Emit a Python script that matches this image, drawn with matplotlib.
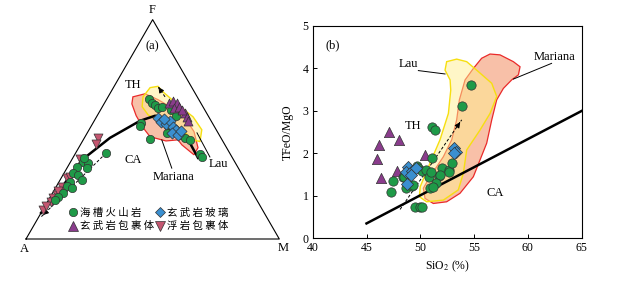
import numpy as np
import matplotlib
matplotlib.use("Agg")
import matplotlib.pyplot as plt
from matplotlib.lines import Line2D

plt.rcParams['font.family'] = ['Liberation Serif', 'Noto Sans CJK SC', 'DejaVu Sans']
plt.rcParams['mathtext.fontset'] = 'stix'

# ---------------- (a) AFM ternary data, F and M in %, A = 100 - F - M
green_F = [63.8, 62.2, 61.2, 59.7, 58.6, 52.8, 51.6, 45.5, 51.3, 49.8, 47.5, 46.0, 45.2, 38.8, 37.6,
           60.3, 56.2, 48.4,
           39.1, 35.3, 34.6, 32.3, 33.0, 30.0, 29.2, 26.9, 26.2, 24.2, 23.2, 20.9, 19.3, 17.8, 37.0]
green_M = [16.7, 18.5, 20.3, 22.4, 27.8, 19.0, 19.2, 26.2, 30.5, 33.3, 37.1, 39.8, 42.1, 49.3, 50.6,
           23.5, 31.1, 31.5,
           12.0, 5.0, 7.3, 7.8, 3.5, 3.7, 6.0, 8.5, 4.3, 4.0, 6.5, 4.3, 3.1, 2.6, 4.4]
blue_F = [55.3, 53.4, 52.5, 53.9, 51.1, 49.8, 48.4, 47.5, 49.3, 54.8]
blue_M = [24.5, 26.6, 29.0, 29.9, 32.5, 34.3, 33.4, 36.3, 36.5, 27.1]
purple_F = [62.2, 62.7, 62.0, 59.8, 60.4, 57.4, 55.8, 53.6, 58.9]
purple_M = [25.5, 26.6, 28.5, 28.5, 30.2, 34.1, 35.5, 37.3, 32.1]
pink_F = [46.0, 43.4, 36.4, 27.7, 23.6, 20.1, 18.6, 17.0, 13.2, 28.4, 22.1, 15.1]
pink_M = [5.5, 5.8, 3.1, 2.5, 2.5, 2.1, 1.5, 1.3, 0.2, 3.2, 1.7, 0.4]

# TH / CA boundary curve
curve_F = [11.9, 22.4, 36.1, 46.1, 53.9, 56.2, 54.3, 49.8, 43.8, 37.0]
curve_M = [0.0, 2.2, 4.1, 10.1, 18.1, 22.9, 28.9, 35.9, 42.8, 49.4]

# fields
mar_F = [64.8, 66.2, 63.5, 59.8, 55.3, 48.9, 41.6, 38.4, 42.9, 45.2, 44.7, 46.6, 50.7, 56.2, 61.6]
mar_M = [9.8, 13.9, 20.4, 27.7, 35.1, 41.9, 47.1, 47.1, 40.1, 37.4, 32.9, 25.7, 20.9, 15.4, 11.0]
lau_F = [69.0, 69.6, 66.7, 60.4, 55.7, 49.8, 44.4, 45.2, 49.8, 53.0, 56.6, 60.3, 64.8]
lau_M = [14.5, 17.3, 21.1, 30.6, 38.1, 44.5, 46.5, 43.3, 36.7, 27.6, 19.9, 15.7, 13.8]

# ---------------- (b) SiO2 vs TFeO/MgO
green_si = [54.71, 53.88, 51.09, 51.37, 51.06, 49.67, 49.82, 48.36, 47.43, 47.25, 48.67, 49.2,
            50.13, 50.53, 50.84, 51.71, 51.99, 52.67, 52.92, 52.70, 51.83, 51.46, 50.9, 51.2,
            49.35, 49.5, 49.97, 50.13, 48.5, 50.97]
green_r = [3.60, 3.12, 2.61, 2.55, 1.88, 1.70, 1.65, 1.45, 1.35, 1.08, 1.18, 1.24,
           1.59, 1.61, 1.45, 1.47, 1.65, 1.61, 1.77, 1.55, 1.49, 1.30, 1.18, 1.20,
           1.26, 0.74, 0.74, 0.73, 1.45, 1.57]
blue_si = [48.83, 48.67, 49.2, 49.6, 49.14, 48.73, 53.13, 53.32, 53.13]
blue_r = [1.69, 1.55, 1.59, 1.65, 1.49, 1.27, 2.12, 2.04, 2.0]
purple_si = [47.13, 48.02, 46.2, 46.0, 46.35, 47.81, 50.44]
purple_r = [2.50, 2.32, 2.20, 1.87, 1.43, 1.59, 1.96]

line_si = [45, 65]
line_r = [0.35, 3.0]

lau_si = [52.45, 53.38, 54.31, 55.24, 56.64, 57.1, 56.48, 55.55, 54.31, 54.0, 53.53, 52.14,
          50.59, 49.91, 50.0, 50.9, 51.83, 52.61, 52.83, 52.77, 52.3]
lau_r = [4.16, 4.22, 4.16, 3.96, 3.65, 3.34, 2.94, 2.55, 2.08, 1.53, 1.14, 0.90,
         0.86, 0.98, 1.22, 1.77, 2.32, 2.94, 3.49, 3.73, 3.96]
mar_si = [56.48, 57.41, 58.65, 59.27, 59.12, 58.49, 57.72, 57.1, 56.64, 56.17, 54.93, 53.69,
          52.45, 51.21, 50.44, 50.28, 50.9, 52.14, 52.92, 53.38, 53.63, 54.16, 54.93, 55.7]
mar_r = [4.34, 4.32, 4.16, 4.04, 3.85, 3.73, 3.53, 3.26, 2.79, 2.24, 1.45, 1.06,
         0.86, 0.82, 0.94, 1.18, 1.45, 1.92, 2.32, 2.79, 3.26, 3.73, 4.0, 4.24]

labels = ["海 槽 火 山 岩", "玄 武 岩 玻 璃", "玄 武 岩 包 裹 体", "浮 岩 包 裹 体"]

GREEN = "#1f9a48"
BLUE = "#3a8fd0"
PURPLE = "#8a3c8c"
PINK = "#c45670"
EDGE = "#333333"
MAR_FACE = "#f8c0a8"
MAR_EDGE = "#ea2a2a"
LAU_FACE = "#ffef90"
LAU_EDGE = "#f6df10"


def tern(F, M):
    F = np.asarray(F, dtype=float) / 100
    M = np.asarray(M, dtype=float) / 100
    return M + F / 2, F * np.sqrt(3) / 2


fig = plt.figure(figsize=(6.44, 2.81), dpi=100)

# ---------- (a)
S = 253.3
ax1 = fig.add_axes([0, 0, 300 / 644, 1])
ax1.set_xlim(-26 / S, 274 / S)
ax1.set_ylim(-42 / S, 239 / S)
ax1.axis("off")

tri_x = [0, 1, 0.5, 0]
tri_y = [0, 0, np.sqrt(3) / 2, 0]
ax1.plot(tri_x, tri_y, color="black", lw=0.8, zorder=2)

x, y = tern(mar_F, mar_M)
ax1.fill(x, y, facecolor=MAR_FACE, edgecolor=MAR_EDGE, lw=0.9, zorder=1)
x, y = tern(lau_F, lau_M)
ax1.fill(x, y, facecolor=LAU_FACE, alpha=0.5, edgecolor="none", zorder=1.1)
ax1.fill(x, y, facecolor="none", edgecolor=LAU_EDGE, lw=1.0, zorder=1.2)

x, y = tern(curve_F, curve_M)
ax1.plot(x, y, color="black", lw=1.8, zorder=3)

# leader lines
x, y = tern([45.2, 32.3], [31.0, 41.4])
ax1.plot(x, y, color="black", lw=0.7, zorder=2)
x, y = tern([48.4, 37.4], [43.3, 53.9])
ax1.plot(x, y, color="black", lw=0.7, zorder=2)

# trend arrows
for f0, m0, f1, m1 in [(39.1, 12.0, 10.0, 0.9), (64.8, 22.5, 69.2, 17.7), (61.6, 18.9, 65.3, 15.1)]:
    (xs, xe), (ys, ye) = tern([f0, f1], [m0, m1])
    ax1.plot([xs, xe], [ys, ye], color="black", lw=0.7, ls=(0, (3, 2)), zorder=3)
    ax1.annotate("", xy=(xe, ye), xytext=(xs + (xe - xs) * 0.9, ys + (ye - ys) * 0.9),
                 arrowprops=dict(arrowstyle="-|>", color="black", lw=0.7, mutation_scale=8),
                 zorder=3)

x, y = tern(pink_F, pink_M)
ax1.scatter(x, y, s=42, marker="v", color=PINK, edgecolors=EDGE, linewidths=0.5, zorder=4)
x, y = tern(green_F, green_M)
ax1.scatter(x, y, s=36, marker="o", color=GREEN, edgecolors=EDGE, linewidths=0.5, zorder=5)
x, y = tern(purple_F, purple_M)
ax1.scatter(x, y, s=42, marker="^", color=PURPLE, edgecolors=EDGE, linewidths=0.5, zorder=5)
x, y = tern(blue_F, blue_M)
ax1.scatter(x, y, s=32, marker="D", color=BLUE, edgecolors=EDGE, linewidths=0.5, zorder=6)

ax1.text(0.4977, 0.904, "F", ha="center", va="center", fontsize=9)
ax1.text(-0.008, -0.040, "A", ha="center", va="center", fontsize=9)
ax1.text(1.0146, -0.036, "M", ha="center", va="center", fontsize=9)
ax1.text(0.4977, 0.762, "(a)", ha="center", va="center", fontsize=9)
ax1.text(0.4224, 0.608, "TH", ha="center", va="center", fontsize=9)
ax1.text(0.4224, 0.312, "CA", ha="center", va="center", fontsize=9)
ax1.text(0.5843, 0.245, "Mariana", ha="center", va="center", fontsize=9)
ax1.text(0.758, 0.296, "Lau", ha="center", va="center", fontsize=9)

handles = [
    Line2D([], [], ls="none", marker="o", ms=6, mfc=GREEN, mec=EDGE, mew=0.5),
    Line2D([], [], ls="none", marker="D", ms=5, mfc=BLUE, mec=EDGE, mew=0.5),
    Line2D([], [], ls="none", marker="^", ms=6.5, mfc=PURPLE, mec=EDGE, mew=0.5),
    Line2D([], [], ls="none", marker="v", ms=6.5, mfc=PINK, mec=EDGE, mew=0.5),
]
order = [0, 2, 1, 3]
fig.legend([handles[i] for i in order], [labels[i] for i in order], ncol=2,
           loc="upper left", bbox_to_anchor=(68 / 644, 1 - 208 / 281),
           frameon=False, handletextpad=0.15, columnspacing=0.1, labelspacing=0.3,
           handlelength=1.0, borderpad=0, borderaxespad=0,
           prop={"family": ["Noto Sans CJK SC"], "size": 7.5})

# ---------- (b)
ax2 = fig.add_axes([312.7 / 644, 1 - 238.3 / 281, 269 / 644, 212.3 / 281])
ax2.fill(mar_si, mar_r, facecolor=MAR_FACE, edgecolor=MAR_EDGE, lw=0.9, zorder=1)
ax2.fill(lau_si, lau_r, facecolor=LAU_FACE, alpha=0.5, edgecolor="none", zorder=1.1)
ax2.fill(lau_si, lau_r, facecolor="none", edgecolor=LAU_EDGE, lw=1.0, zorder=1.2)
ax2.plot(line_si, line_r, color="black", lw=1.8, zorder=3)

ax2.plot([48.12, 53.85], [0.68, 2.79], color="black", lw=0.7, ls=(0, (3, 2)), zorder=3)
ax2.annotate("", xy=(53.85, 2.79), xytext=(53.5, 2.66),
             arrowprops=dict(arrowstyle="-|>", color="black", lw=0.7, mutation_scale=8), zorder=3)

ax2.plot([49.82, 52.3], [3.95, 3.87], color="black", lw=0.7, zorder=2)
ax2.plot([58.65, 62.2], [3.75, 4.12], color="black", lw=0.7, zorder=2)

ax2.scatter(purple_si, purple_r, s=55, marker="^", color=PURPLE, edgecolors=EDGE, linewidths=0.5, zorder=4)
ax2.scatter(green_si, green_r, s=45, marker="o", color=GREEN, edgecolors=EDGE, linewidths=0.5, zorder=5)
ax2.scatter(blue_si, blue_r, s=38, marker="D", color=BLUE, edgecolors=EDGE, linewidths=0.5, zorder=6)

ax2.text(41.9, 4.55, "(b)", ha="center", va="center", fontsize=9)
ax2.text(49.36, 2.65, "TH", ha="center", va="center", fontsize=9)
ax2.text(56.95, 1.06, "CA", ha="center", va="center", fontsize=9)
ax2.text(48.9, 4.10, "Lau", ha="center", va="center", fontsize=9)
ax2.text(62.5, 4.28, "Mariana", ha="center", va="center", fontsize=9)

ax2.set_xlim(40, 65)
ax2.set_ylim(0, 5)
ax2.set_xticks([40, 45, 50, 55, 60, 65])
ax2.set_yticks([0, 1, 2, 3, 4, 5])
ax2.tick_params(direction="in", length=3, width=0.7, labelsize=8.5, pad=3)
for sp in ax2.spines.values():
    sp.set_linewidth(0.8)
ax2.set_xlabel("SiO$_2$ (%)", fontsize=8.5, labelpad=3)
ax2.set_ylabel("TFeO/MgO", fontsize=8.5, labelpad=6)

fig.savefig("out.png", dpi=100)
